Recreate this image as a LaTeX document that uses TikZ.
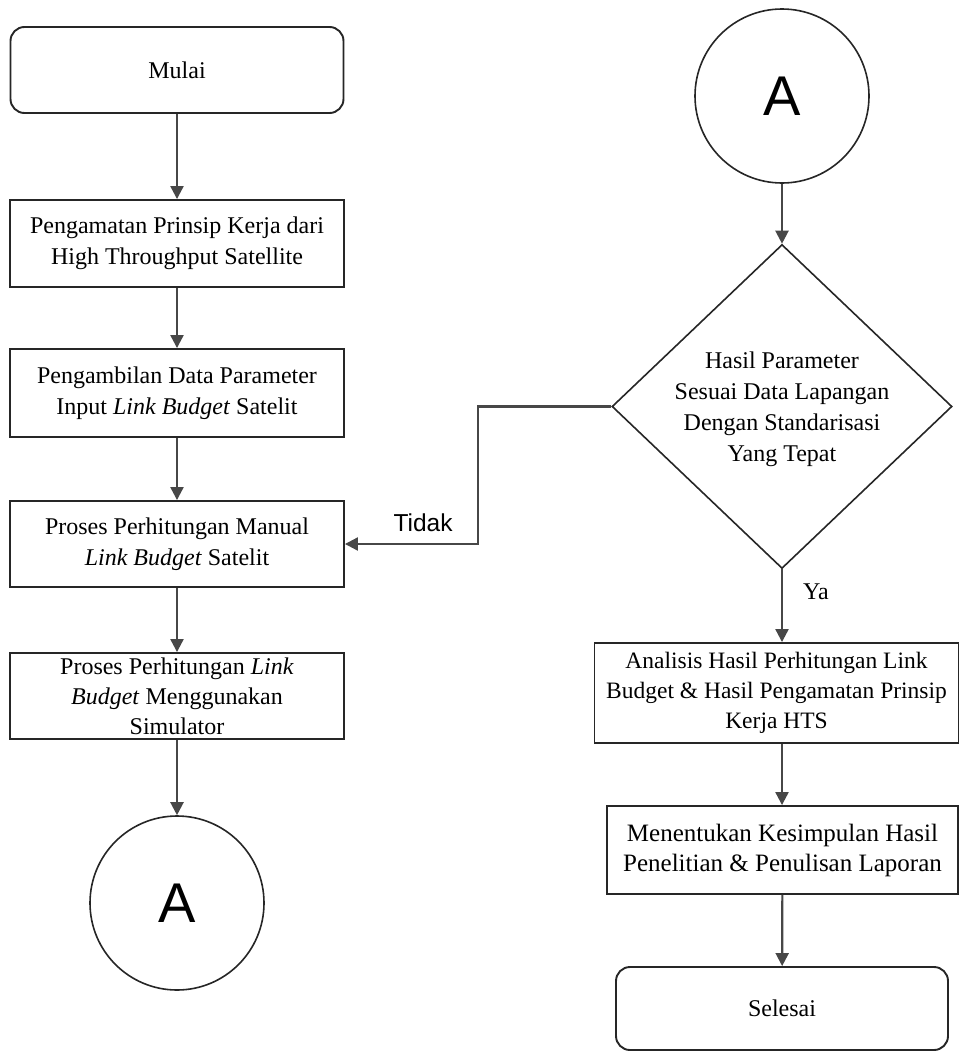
\documentclass[tikz,border=0pt]{standalone}
\usepackage{fontspec}
\setmainfont{Liberation Serif}
\newfontfamily\sansf{Liberation Sans}
\usetikzlibrary{arrows.meta,shapes.geometric}
\begin{document}
\begin{tikzpicture}[x=1pt,y=-1pt,
  box/.style={draw=black!85, line width=1.9pt, rectangle, inner sep=0pt, align=center,
    font=\fontsize{24}{31}\selectfont},
  term/.style={box, rounded corners=14pt},
  conn/.style={draw=black!72, line width=2.2pt, -{Triangle[length=13pt,width=13pt]}},
  circ/.style={draw=black!85, line width=1.6pt, circle, minimum size=174pt, inner sep=0pt,
    font=\sansf\fontsize{56}{60}\selectfont},
  dia/.style={draw=black!85, line width=1.6pt, diamond, inner sep=0pt,
    minimum width=340pt, minimum height=324pt},
  lbl/.style={inner sep=0pt, align=center, font=\fontsize{24}{31}\selectfont},
  sanslbl/.style={inner sep=0pt, font=\sansf\fontsize{24.5}{28}\selectfont}]
\fill[white] (0,0) rectangle (960,1052);
\useasboundingbox (0,0) rectangle (960,1052);

% left column
\node[term, minimum width=333pt, minimum height=86pt] (mulai) at (177,70) {Mulai};
\node[box, minimum width=334pt, minimum height=87pt] (b1) at (177,243.5)
  {Pengamatan Prinsip Kerja dari\\High Throughput Satellite};
\node[box, minimum width=334pt, minimum height=88pt] (b2) at (177,393)
  {Pengambilan Data Parameter\\Input \textit{Link Budget} Satelit};
\node[box, minimum width=334pt, minimum height=86pt] (b3) at (177,544)
  {Proses Perhitungan Manual\\\textit{Link Budget} Satelit};
\node[box, minimum width=334pt, minimum height=86pt, font=\fontsize{24}{30}\selectfont] (b4) at (177,696)
  {Proses Perhitungan \textit{Link}\\\textit{Budget} Menggunakan\\Simulator};
\node[circ] (a1) at (177,903) {A};

% right column
\node[circ] (a2) at (782,96) {A};
\node[dia] (dec) at (782,406.5) {};
\node[lbl] (dectext) at (782,409) {Hasil Parameter\\Sesuai Data Lapangan\\Dengan Standarisasi\\Yang Tepat};
\node[box, minimum width=364pt, minimum height=100pt, font=\fontsize{23.5}{30}\selectfont] (an) at (776.5,693)
  {Analisis Hasil Perhitungan Link\\Budget \& Hasil Pengamatan Prinsip\\Kerja HTS};
\node[box, minimum width=351pt, minimum height=88pt, font=\fontsize{25}{30}\selectfont] (mk) at (782.5,850)
  {Menentukan Kesimpulan Hasil\\Penelitian \& Penulisan Laporan};
\node[term, minimum width=332pt, minimum height=83pt] (sel) at (782,1008.5) {Selesai};

% labels
\node[sanslbl] (tidak) at (423,523) {Tidak};
\node[lbl] (ya) at (816,592) {Ya};
\coordinate (turn) at (478,406.5);

% connectors
\draw[conn] (mulai) -- (b1);
\draw[conn] (b1) -- (b2);
\draw[conn] (b2) -- (b3);
\draw[conn] (b3) -- (b4);
\draw[conn] (b4) -- (a1);
\draw[conn] (a2) -- (dec);
\draw[conn] (dec.south) -- (dec.south |- an.north);
\draw[conn] (dec.south |- an.south) -- (dec.south |- mk.north);
\draw[conn] (mk) -- (sel);
\draw[conn] (dec.west) -- (turn) |- (b3.east);
\end{tikzpicture}
\end{document}
